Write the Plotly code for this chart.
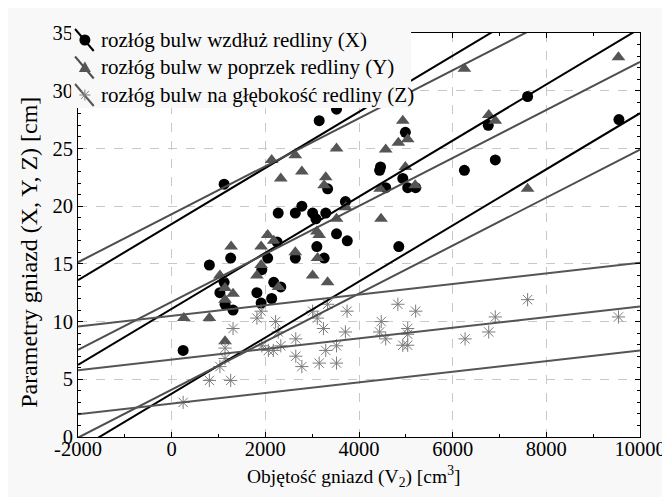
import plotly.graph_objects as go

# ---------------- data ----------------
# X: rozłóg bulw wzdłuż redliny
x_vol = [245, 805, 1030, 1120, 1120, 1140, 1260, 1310, 1820, 1910, 1925, 2050,
         2135, 2180, 2250, 2330, 2275, 2640, 2640, 2780, 3010, 3080, 3100, 3150,
         3255, 3290, 3330, 3520, 3520, 3710, 3750, 4440, 4460, 4570, 4850, 4935,
         4990, 5040, 5210, 6250, 6760, 6910, 7600, 9550]
x_val = [7.5, 14.9, 12.5, 13.4, 21.9, 11.5, 15.5, 11.0, 12.5, 11.6, 14.5, 15.5,
         12.0, 13.4, 16.9, 13.0, 19.4, 19.4, 15.5, 20.0, 19.4, 18.9, 16.5, 27.4,
         15.5, 19.4, 21.5, 28.4, 17.6, 20.4, 17.0, 23.1, 23.4, 21.6, 16.5, 22.4,
         26.4, 21.6, 21.6, 23.1, 27.0, 24.0, 29.5, 27.5]

# Y: rozłóg bulw w poprzek redliny
y_vol = [260, 805, 1030, 1140, 1140, 1140, 1270, 1310, 1820, 1910, 1910, 2050,
         2135, 2180, 2280, 2330, 2640, 2640, 2780, 3010, 3100, 3115, 3150, 3255,
         3290, 3330, 3520, 3520, 3720, 4450, 4470, 4570, 4840, 4935, 4990, 5040,
         5200, 6250, 6770, 6910, 7600, 9540]
y_val = [10.3, 10.3, 14.0, 12.9, 11.9, 8.3, 16.5, 12.4, 14.0, 16.5, 14.9, 17.5,
         24.0, 17.0, 13.0, 22.4, 24.4, 16.0, 23.0, 14.0, 17.8, 15.5, 17.5, 21.8,
         22.5, 13.4, 25.0, 18.9, 19.9, 21.5, 18.9, 24.9, 25.5, 27.4, 23.4, 25.8,
         21.8, 31.9, 27.9, 27.4, 21.5, 32.9]

# Z: rozłóg bulw na głębokość redliny
z_vol = [245, 805, 1030, 1140, 1140, 1260, 1310, 1820, 1910, 1925, 2065, 2170,
         2220, 2275, 2330, 2650, 2650, 2780, 3010, 3110, 3150, 3240, 3290, 3330,
         3520, 3520, 3710, 3745, 4440, 4475, 4570, 4830, 4935, 5040, 5040, 5040,
         5210, 6265, 6770, 6910, 7600, 9540]
z_val = [3.0, 4.9, 6.1, 6.8, 7.7, 4.9, 9.4, 10.3, 10.9, 7.9, 7.5, 7.5,
         10.0, 9.1, 7.9, 8.5, 7.0, 6.1, 10.9, 10.3, 6.4, 9.4, 7.5, 11.5,
         7.9, 6.4, 9.1, 10.9, 9.1, 10.0, 8.5, 11.5, 7.95, 7.95, 8.9, 9.4,
         10.9, 8.5, 9.1, 10.4, 11.9, 10.4]

# fitted lines (lower band, regression, upper band): intercepts and slopes
x_slope = 0.00243
x_intercepts = [3.75, 11.1, 18.45]
y_slope = 0.00208
y_intercepts = [4.1, 11.7, 19.3]
z_slope = 0.00046
z_intercepts = [2.9, 6.7, 10.5]

v_span = [-2000, 10000]

x_tickvals = [-2000, 0, 2000, 4000, 6000, 8000, 10000]
x_ticktext = ["-2000", "0", "2000", "4000", "6000", "8000", "10000"]
y_tickvals = [0, 5, 10, 15, 20, 25, 30, 35]

legend_names = ["rozłóg bulw wzdłuż redliny (X)",
                "rozłóg bulw w poprzek redliny (Y)",
                "rozłóg bulw na głębokość redliny (Z)"]
x_title = "Objętość gniazd (V<sub>2</sub>) [cm<sup>3</sup>]"
y_title = "Parametry gniazd (X, Y, Z) [cm]"

# ---------------- styles / layout geometry ----------------
FONT = "Liberation Serif, Times New Roman, DejaVu Serif, serif"
FS = 20.5
C_X = "#000000"
C_Y = "#555555"
C_YL = "#4d4d4d"
C_Z = "#7c7c7c"
C_ZL = "#555555"
PAPER = "#f8f8f8"

W, H = 670, 497
ML, MR, MT, MB = 70, 28, 25, 68
PW, PH = W - ML - MR, H - MT - MB


def px_x(p):
    return (p - ML) / PW


def px_y(p):
    return (H - MB - p) / PH


series = [
    dict(vol=x_vol, val=x_val, slope=x_slope, icpt=x_intercepts,
         marker=dict(symbol="circle", size=11, color=C_X), lc=C_X),
    dict(vol=y_vol, val=y_val, slope=y_slope, icpt=y_intercepts,
         marker=dict(symbol="triangle-up", size=12, color=C_Y), lc=C_YL),
    dict(vol=z_vol, val=z_val, slope=z_slope, icpt=z_intercepts,
         marker=dict(symbol="asterisk-open", size=11, color=C_Z,
                     line=dict(color=C_Z, width=1)), lc=C_ZL),
]

fig = go.Figure()

# scatter points
for s in series:
    fig.add_trace(go.Scatter(x=s["vol"], y=s["val"], mode="markers",
                             marker=s["marker"], showlegend=False,
                             hoverinfo="skip"))

# fitted lines
for s in series:
    for b in s["icpt"]:
        fig.add_trace(go.Scatter(
            x=v_span, y=[b + s["slope"] * v for v in v_span], mode="lines",
            line=dict(color=s["lc"], width=2), showlegend=False,
            hoverinfo="skip"))

# ---------------- custom legend (diagonal key lines) ----------------
shapes = [dict(type="rect", xref="paper", yref="paper", layer="above",
               x0=px_x(63), x1=px_x(409), y0=px_y(100), y1=px_y(4),
               fillcolor=PAPER, line=dict(width=0))]
annotations = []
key_cx = 77
key_cy = [32, 59.5, 87]
glyph_paths = [
    None,
    "M-6,-4.5 L6,-4.5 L0,6 Z",
    "M-5.5,0 L5.5,0 M0,-5.5 L0,5.5 M-4,-4 L4,4 M-4,4 L4,-4",
]
for i, s in enumerate(series):
    cy = key_cy[i]
    shapes.append(dict(type="line", xref="paper", yref="paper", layer="above",
                       x0=px_x(key_cx - 10), y0=px_y(cy - 11),
                       x1=px_x(key_cx + 9), y1=px_y(cy + 11),
                       line=dict(color=s["lc"], width=2)))
    common = dict(xref="paper", yref="paper", layer="above",
                  xsizemode="pixel", ysizemode="pixel",
                  xanchor=px_x(key_cx), yanchor=px_y(cy))
    if i == 0:
        shapes.append(dict(type="circle", x0=-5.5, x1=5.5, y0=-5.5, y1=5.5,
                           fillcolor=C_X, line=dict(width=0), **common))
    elif i == 1:
        shapes.append(dict(type="path", path=glyph_paths[1], fillcolor=C_Y,
                           line=dict(width=0), **common))
    else:
        shapes.append(dict(type="path", path=glyph_paths[2],
                           line=dict(color=C_Z, width=1), **common))
    annotations.append(dict(xref="paper", yref="paper", x=px_x(91),
                            y=px_y(cy), xanchor="left", yanchor="middle",
                            text=legend_names[i], showarrow=False,
                            font=dict(family=FONT, size=21, color="#000000")))

# axis titles
annotations.append(dict(xref="paper", yref="paper", x=px_x(350), y=px_y(468),
                        xanchor="center", yanchor="middle", text=x_title,
                        showarrow=False,
                        font=dict(family=FONT, size=19.5, color="#000000")))
annotations.append(dict(xref="paper", yref="paper", x=px_x(20), y=px_y(244),
                        xanchor="center", yanchor="middle", text=y_title,
                        textangle=-90, showarrow=False,
                        font=dict(family=FONT, size=24, color="#000000")))

axis_common = dict(
    showline=True, linecolor="#000000", linewidth=1, mirror="ticks",
    ticks="inside", ticklen=5, tickcolor="#000000",
    showgrid=True, gridcolor="#c8c8c8", griddash="dash", gridwidth=1,
    zeroline=False,
    tickfont=dict(family=FONT, size=FS, color="#000000"),
)

fig.update_layout(
    width=W, height=H,
    margin=dict(l=ML, r=MR, t=MT, b=MB),
    paper_bgcolor=PAPER, plot_bgcolor="#ffffff",
    font=dict(family=FONT, size=FS, color="#000000"),
    showlegend=False,
    shapes=shapes,
    annotations=annotations,
    xaxis=dict(range=v_span, tickvals=x_tickvals, ticktext=x_ticktext,
               ticklabelstandoff=-7,
               minor=dict(dtick=1000, ticks="inside", ticklen=3,
                          tickcolor="#000000", showgrid=False),
               **axis_common),
    yaxis=dict(range=[0, 35], tickvals=y_tickvals,
               minor=dict(dtick=1, ticks="inside", ticklen=3,
                          tickcolor="#000000", showgrid=False),
               **axis_common),
)

fig.write_html("out.html")
